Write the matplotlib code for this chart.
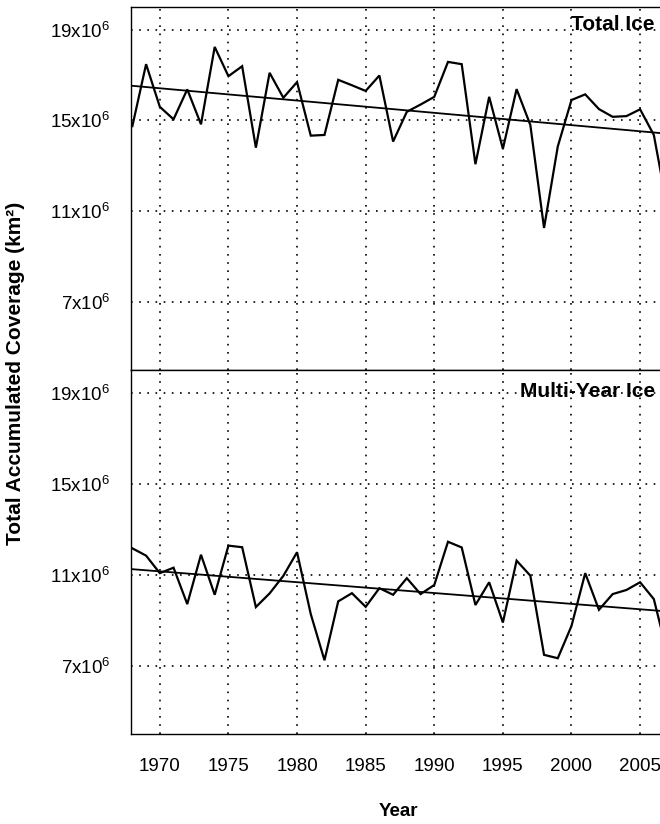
import numpy as np
import matplotlib
matplotlib.use("Agg")
import matplotlib.pyplot as plt
from matplotlib.ticker import FuncFormatter

plt.rcParams['font.family'] = ['Liberation Sans', 'DejaVu Sans']
plt.rcParams['mathtext.fontset'] = 'custom'
plt.rcParams['mathtext.rm'] = 'Liberation Sans'
plt.rcParams['mathtext.it'] = 'Liberation Sans:italic'
plt.rcParams['mathtext.bf'] = 'Liberation Sans:bold'

# accumulated coverage, millions of km^2
years = np.arange(1968, 2008)
total_ice = [14.75, 17.48, 15.6, 15.05, 16.37, 14.83, 18.24, 16.95, 17.39, 13.8,
             17.1, 16.0, 16.69, 14.33, 14.36, 16.79, 16.55, 16.3, 16.98, 14.07,
             15.38, 15.7, 16.04, 17.58, 17.48, 13.07, 16.04, 13.75, 16.38, 14.8,
             10.26, 13.85, 15.9, 16.15, 15.5, 15.16, 15.19, 15.49, 14.36, 11.1]
multi_year_ice = [12.16, 11.84, 11.07, 11.31, 9.71, 11.88, 10.12, 12.28, 12.21, 9.58,
                  10.18, 10.95, 11.99, 9.27, 7.24, 9.83, 10.19, 9.59, 10.41, 10.12,
                  10.85, 10.15, 10.55, 12.45, 12.2, 9.67, 10.67, 8.9, 11.62, 10.96,
                  7.48, 7.33, 8.75, 11.07, 9.46, 10.15, 10.33, 10.67, 9.93, 7.5]
panel_names = ["Total Ice", "Multi-Year Ice"]
x_ticks = [1970, 1975, 1980, 1985, 1990, 1995, 2000, 2005]
y_ticks = [7, 11, 15, 19]

W, H = 660, 824
fig = plt.figure(figsize=(W / 100, H / 100), dpi=100)

left = 131 / W
width = 564 / W   # runs past the right edge, like the original
ax_top = fig.add_axes([left, (H - 370) / H, width, 363 / H])
ax_bot = fig.add_axes([left, (H - 734) / H, width, 364 / H], sharex=ax_top)

fmt = FuncFormatter(lambda v, p: "%dx10$^{6}$" % round(v / 1e6))

label_y = [0.9366, 0.9267]
for ax, vals, name, ly in zip([ax_top, ax_bot], [total_ice, multi_year_ice], panel_names, label_y):
    v = np.array(vals) * 1e6
    ax.plot(years, v, color='black', lw=1.6, solid_joinstyle='miter')
    coef = np.polyfit(years, v, 1)
    xx = np.array([1960, 2015])
    ax.plot(xx, np.polyval(coef, xx), color='black', lw=1.3)

    ax.set_xlim(1967.9, 2009.0)
    ax.set_ylim(4e6, 20e6)
    ax.set_xticks(x_ticks)
    ax.set_yticks([t * 1e6 for t in y_ticks])
    ax.yaxis.set_major_formatter(fmt)
    ax.grid(True, color='black', lw=1.2, linestyle=(0, (1, 3.9)))
    ax.tick_params(length=0, labelsize=13.5, pad=15)
    ax.tick_params(axis='x', pad=17)
    for s in ax.spines.values():
        s.set_linewidth(1.0)
    ax.text(0.929, ly, name, transform=ax.transAxes, ha='right', va='baseline',
            fontsize=15, fontweight='bold')

ax_top.tick_params(axis='x', labelbottom=False)

fig.text(398 / W, 1 - 811 / H, "Year", ha='center', va='center',
         fontsize=13.5, fontweight='bold')
fig.text(16 / W, 1 - 373 / H, "Total Accumulated Coverage (km\u00b2)", rotation=90,
         ha='center', va='center', fontsize=15, fontweight='bold')

fig.savefig("out.png", dpi=100)
